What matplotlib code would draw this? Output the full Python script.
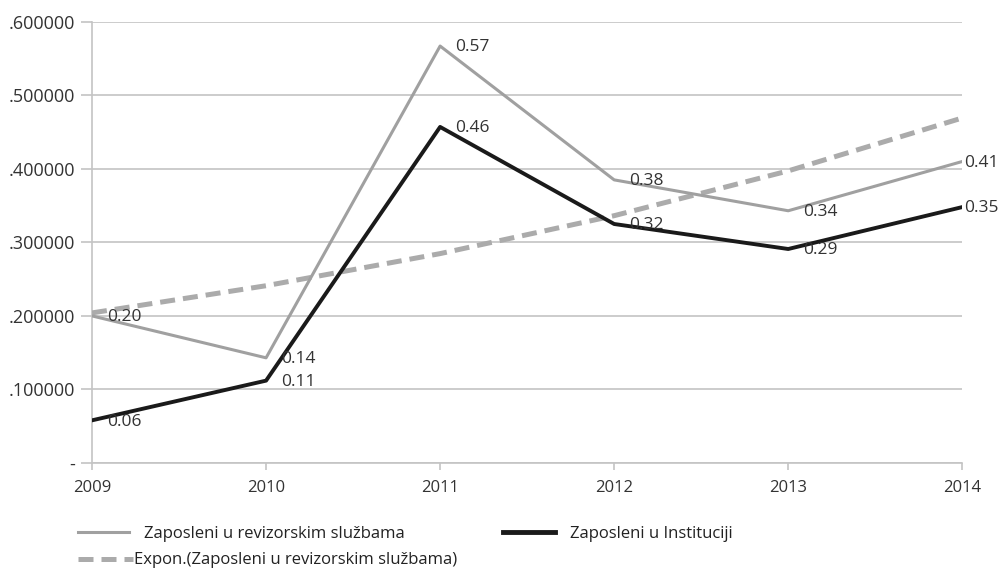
import numpy as np
import matplotlib
matplotlib.use("Agg")
import matplotlib.pyplot as plt
from matplotlib.ticker import FuncFormatter

years = [2009, 2010, 2011, 2012, 2013, 2014]
revizorske = [0.20, 0.143, 0.567, 0.385, 0.343, 0.41]
institucija = [0.058, 0.112, 0.457, 0.325, 0.291, 0.348]
lbl_rev = ["0.20", "0.14", "0.57", "0.38", "0.34", "0.41"]
lbl_ins = ["0.06", "0.11", "0.46", "0.32", "0.29", "0.35"]

# exponential trend fitted to revizorske
xi = np.arange(len(years))
b, a = np.polyfit(xi, np.log(revizorske), 1)
trend = np.exp(a + b * xi)

plt.rcParams['font.family'] = ['Open Sans', 'DejaVu Sans']
narrow = ['Liberation Sans Narrow', 'Open Sans', 'DejaVu Sans']

fig = plt.figure(figsize=(9.98, 5.73), dpi=100)
ax = fig.add_axes([0.0922, 0.192, 0.872, 0.770])

grid_c = '#c4c4c4'
ax.plot(years, trend, color='#ababab', lw=3.6, dashes=(3.0, 1.6), zorder=3)
ax.plot(years, revizorske, color='#a0a0a0', lw=2.2, zorder=4)
ax.plot(years, institucija, color='#1a1a1a', lw=2.8, zorder=5)

for i, (x, y) in enumerate(zip(years, revizorske)):
    dx = 1 if i == len(years) - 1 else 11
    ax.annotate(lbl_rev[i], (x, y), xytext=(dx, -1), textcoords='offset points',
                ha='left', va='center', fontsize=12.5, color='#333333', zorder=6)
for i, (x, y) in enumerate(zip(years, institucija)):
    dx = 1 if i == len(years) - 1 else 11
    ax.annotate(lbl_ins[i], (x, y), xytext=(dx, -1), textcoords='offset points',
                ha='left', va='center', fontsize=12.5, color='#333333', zorder=6)

ax.set_xlim(2009, 2014)
ax.set_ylim(0, 0.6)
ax.set_yticks(np.arange(0, 0.61, 0.1))
ax.yaxis.set_major_formatter(FuncFormatter(lambda v, p: '-' if abs(v) < 1e-9 else ('%.6f' % v)[1:]))
ax.set_xticks(years)
ax.grid(axis='y', color=grid_c, lw=1.2)
ax.set_axisbelow(True)
for s in ['top', 'right']:
    ax.spines[s].set_visible(False)
for s in ['left', 'bottom']:
    ax.spines[s].set_color(grid_c)
    ax.spines[s].set_linewidth(1.2)
ax.tick_params(axis='y', length=8, color=grid_c, width=1.2, labelsize=13, labelcolor='#333333', pad=4)
ax.tick_params(axis='x', length=5, color=grid_c, width=1.2, labelsize=12, labelcolor='#333333', pad=7)
for t in ax.get_xticklabels():
    t.set_family(narrow)

h1, = ax.plot([], [], color='#a0a0a0', lw=2.2)
h2, = ax.plot([], [], color='#1a1a1a', lw=3.5)
h3, = ax.plot([], [], color='#ababab', lw=3.6, dashes=(3.0, 1.6))
leg1 = fig.legend([h1, h2], ['Zaposleni u revizorskim službama', 'Zaposleni u Instituciji'],
                  ncol=2, loc='center left', bbox_to_anchor=(0.071, 0.068),
                  frameon=False, fontsize=12, handlelength=3.1, handletextpad=0.9,
                  columnspacing=5.9, borderaxespad=0)
leg2 = fig.legend([h3], ['Expon.(Zaposleni u revizorskim službama)'],
                  loc='center left', bbox_to_anchor=(0.071, 0.022),
                  frameon=False, fontsize=12, handlelength=3.3, handletextpad=0.1,
                  borderaxespad=0)
for lg in (leg1, leg2):
    for t in lg.get_texts():
        t.set_family(narrow)
        t.set_color('#222222')

fig.savefig('out.png', dpi=100)
